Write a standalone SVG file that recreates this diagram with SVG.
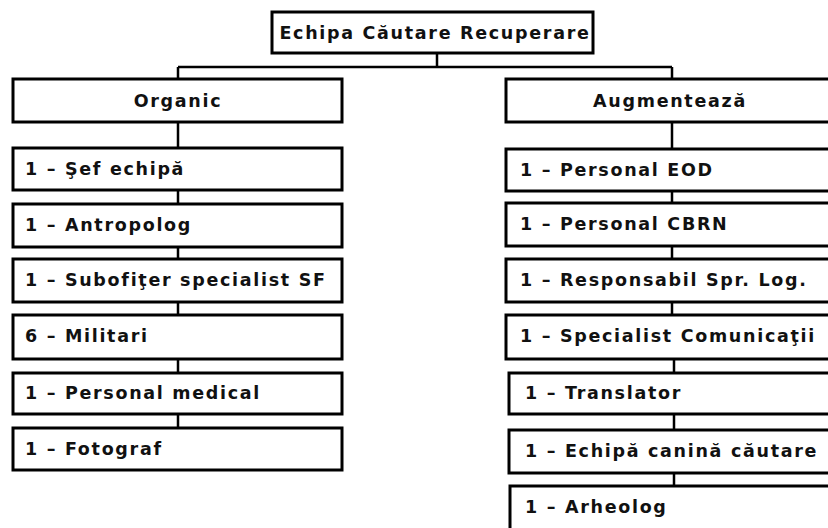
<svg xmlns="http://www.w3.org/2000/svg" width="828" height="528" viewBox="0 0 828 528">
<style>
.box{fill:#fff;stroke:#000;stroke-width:3}
.ln{fill:none;stroke:#000;stroke-width:2.5}
text{font-family:"DejaVu Sans","Liberation Sans",Arial,sans-serif;font-weight:bold;font-size:17.5px;fill:#111;letter-spacing:1.7px}
.c{text-anchor:middle}
</style>
<rect width="828" height="528" fill="#fff"/>
<g id="connectors">
<path class="ln" d="M437 53V67M178 67H672M178 67V79M672 67V79"/>
<path class="ln" d="M178 122V148M178 190V204M178 247V259M178 302V315M178 359V373M178 414V428"/>
<path class="ln" d="M672 122V149M672 191V203M672 246V259M672 302V315M674 359V373M674 414V430M674 473V486"/>
</g>
<g id="n0"><rect class="box" x="272" y="12" width="321" height="41"/><text class="c" x="435" y="39">Echipa Căutare Recuperare</text></g>
<g id="n1"><rect class="box" x="13" y="79" width="329" height="43"/><text class="c" x="178" y="107">Organic</text></g>
<g id="n2"><rect class="box" x="13" y="148" width="329" height="42"/><text x="25" y="175">1 – Şef echipă</text></g>
<g id="n3"><rect class="box" x="13" y="204" width="329" height="43"/><text x="25" y="231">1 – Antropolog</text></g>
<g id="n4"><rect class="box" x="13" y="259" width="329" height="43"/><text x="25" y="286">1 – Subofiţer specialist SF</text></g>
<g id="n5"><rect class="box" x="13" y="315" width="329" height="44"/><text x="25" y="342">6 – Militari</text></g>
<g id="n6"><rect class="box" x="13" y="373" width="329" height="41"/><text x="25" y="399">1 – Personal medical</text></g>
<g id="n7"><rect class="box" x="13" y="428" width="329" height="42"/><text x="25" y="455">1 – Fotograf</text></g>
<g id="n8"><rect class="box" x="506" y="79" width="340" height="43"/><text class="c" x="670" y="107">Augmentează</text></g>
<g id="n9"><rect class="box" x="506" y="149" width="340" height="42"/><text x="520" y="176">1 – Personal EOD</text></g>
<g id="n10"><rect class="box" x="506" y="203" width="340" height="43"/><text x="520" y="230">1 – Personal CBRN</text></g>
<g id="n11"><rect class="box" x="506" y="259" width="340" height="43"/><text x="520" y="286">1 – Responsabil Spr. Log.</text></g>
<g id="n12"><rect class="box" x="506" y="315" width="340" height="44"/><text x="520" y="342">1 – Specialist Comunicaţii</text></g>
<g id="n13"><rect class="box" x="509" y="373" width="340" height="41"/><text x="525" y="399">1 – Translator</text></g>
<g id="n14"><rect class="box" x="509" y="430" width="340" height="43"/><text x="525" y="457">1 – Echipă canină căutare</text></g>
<g id="n15"><rect class="box" x="510" y="486" width="340" height="60"/><text x="525" y="513">1 – Arheolog</text></g>
</svg>
